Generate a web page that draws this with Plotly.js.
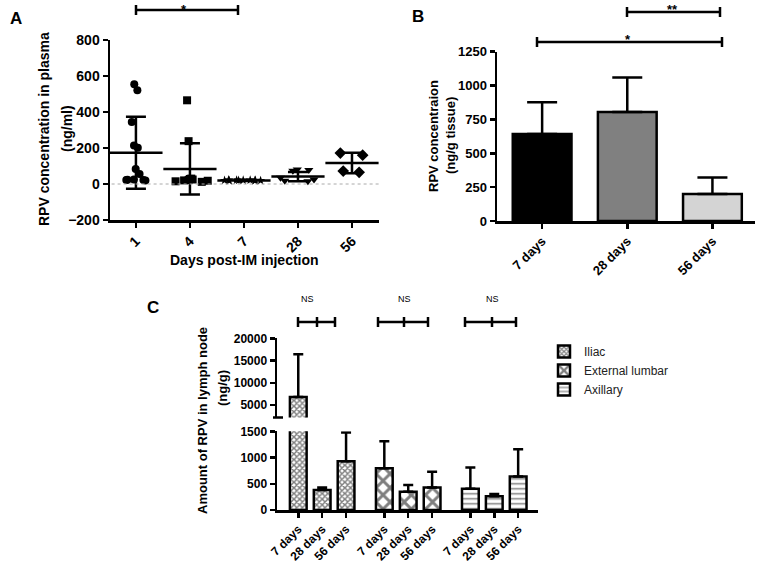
<!DOCTYPE html>
<html><head><meta charset="utf-8">
<script src="https://cdn.plot.ly/plotly-3.0.1.min.js"></script>
<style>html,body{margin:0;padding:0;background:#fff}#chart{width:757px;height:566px}</style>
</head><body><div id="chart"></div>
<script>
// ---------- Panel A: plasma ----------
const plasmaDays = ['1', '4', '7', '28', '56'];
const plasmaDay1 = [554, 521, 344, 214, 201, 84, 56, 25, 22, 22, 20, 24];
const plasmaDay4 = [465, 238, 30, 25, 20, 18, 15, 22, 28, 12];
const plasmaDay7 = [20, 22, 18, 21, 19, 23, 20, 22, 18, 21];
const plasmaDay28 = [78, 74, 80, 35, 25, 18, 15];
const plasmaDay56 = [172, 160, 72, 65];
const plasmaMean = [173, 84, 20, 41, 117];
const plasmaSD = [200, 142, 3, 26, 57];

// ---------- Panel B: tissue ----------
const tissueCats = ['7 days', '28 days', '56 days'];
const tissueMean = [642, 804, 199];
const tissueSD = [234, 256, 123];

// ---------- Panel C: lymph nodes ----------
const nodeTypes = ['Iliac', 'External lumbar', 'Axillary'];
const nodeDays = ['7 days', '28 days', '56 days'];
const iliacMean = [6860, 380, 931];
const iliacSD = [9570, 51, 544];
const lumbarMean = [798, 348, 431];
const lumbarSD = [514, 127, 297];
const axillaryMean = [405, 260, 640];
const axillarySD = [406, 44, 520];

const W = 757, H = 566;
const px = x => x / W, py = y => 1 - y / H;
const FONT = 'Liberation Sans, Arial, sans-serif';
const BOLD = (s) => ({family: FONT, size: s, color: '#000', weight: 'bold'});

const traces = [];

// A: scatter dots via box traces (box invisible, all points)
const plasmaSets = [plasmaDay1, plasmaDay4, plasmaDay7, plasmaDay28, plasmaDay56];
const plasmaSymbols = ['circle', 'square', 'star', 'triangle-down', 'diamond'];
const plasmaSizes = [8, 8, 7, 8, 9];
const plasmaJitter = [0.8, 1, 1, 0.9, 0.6];
plasmaSets.forEach((vals, k) => {
  traces.push({
    type: 'box', xaxis: 'x', yaxis: 'y',
    x: vals.map(() => plasmaDays[k]), y: vals,
    boxpoints: 'all', jitter: plasmaJitter[k], pointpos: 0, width: 0.85,
    fillcolor: 'rgba(0,0,0,0)', line: {width: 0, color: 'rgba(0,0,0,0)'},
    whiskerwidth: 0,
    marker: {symbol: plasmaSymbols[k], size: plasmaSizes[k], color: '#000', line: {width: 0}},
    showlegend: false, hoverinfo: 'y'
  });
});
traces.push({
  type: 'scatter', mode: 'markers', xaxis: 'x', yaxis: 'y',
  x: plasmaDays, y: plasmaMean,
  marker: {symbol: 'line-ew', size: 38, line: {width: 2.5, color: '#000'}},
  error_y: {type: 'data', array: plasmaSD, width: 10, thickness: 2.5, color: '#000'},
  showlegend: false
});

// B: bars
traces.push({
  type: 'bar', xaxis: 'x2', yaxis: 'y2',
  x: tissueCats, y: tissueMean, width: 0.69,
  marker: {color: ['#000000', '#808080', '#d4d4d4'], line: {width: 2.5, color: '#000'}},
  error_y: {type: 'data', array: tissueSD, arrayminus: tissueSD.map(() => 0), symmetric: false,
            width: 15, thickness: 2.5, color: '#000'},
  showlegend: false
});

// C: bars (bottom and top segment of broken axis)
const nodeMeans = [iliacMean, lumbarMean, axillaryMean];
const nodeSDs = [iliacSD, lumbarSD, axillarySD];
const patterns = [
  {shape: 'x', size: 4, solidity: 0.6},
  {shape: 'x', size: 10, solidity: 0.5},
  {shape: '-', size: 5, solidity: 0.3}
];
const pos = (g, i) => g * 3.6 + i;
const tickPos = [], tickTxt = [];
nodeTypes.forEach((name, g) => {
  const xs = nodeDays.map((d, i) => pos(g, i));
  xs.forEach((v, i) => { tickPos.push(v); tickTxt.push(nodeDays[i]); });
  ['y3', 'y4'].forEach((ya, s) => {
    traces.push({
      type: 'bar', xaxis: 'x3', yaxis: ya, name: name,
      x: xs, y: nodeMeans[g], width: 0.7,
      marker: {color: '#fff', line: {width: 2.5, color: '#000'},
               pattern: Object.assign({fgcolor: '#000', bgcolor: '#fff', fillmode: 'overlay'}, patterns[g])},
      error_y: {type: 'data', array: nodeSDs[g], arrayminus: nodeSDs[g].map(() => 0), symmetric: false,
                width: 5, thickness: 2.5, color: '#000'},
      showlegend: s === 0, legendgroup: name
    });
  });
});

const axisCommon = {
  showline: true, linewidth: 2.5, linecolor: '#000', ticks: 'outside', ticklen: 5, tickwidth: 2.5,
  tickcolor: '#000', showgrid: false, zeroline: false, fixedrange: true
};

const shapes = [];
const annotations = [];
function sigBar(x0, x1, y, mids) {
  shapes.push({type: 'line', xref: 'paper', yref: 'paper', x0: px(x0), x1: px(x1), y0: py(y), y1: py(y), line: {width: 2.5, color: '#000'}});
  [x0, x1].concat(mids || []).forEach(x => shapes.push({type: 'line', xref: 'paper', yref: 'paper', x0: px(x), x1: px(x), y0: py(y - 5), y1: py(y + 5), line: {width: 2.5, color: '#000'}}));
}
function txt(x, y, t, font, extra) {
  annotations.push(Object.assign({xref: 'paper', yref: 'paper', x: px(x), y: py(y), text: t, showarrow: false, font: font, xanchor: 'center', yanchor: 'middle'}, extra || {}));
}

// zero dotted line in A
shapes.push({type: 'line', xref: 'x', yref: 'y', x0: -0.45, x1: 4.5, y0: 0, y1: 0, line: {width: 1, color: '#aaa', dash: 'dot'}});
// broken axis end tick in C
shapes.push({type: 'line', xref: 'paper', yref: 'paper', x0: px(273), x1: px(283), y0: py(417.5), y1: py(417.5), line: {width: 2.5, color: '#000'}});

sigBar(136, 238, 10);
txt(184, 0, '*', BOLD(13), {yanchor: 'top'});
sigBar(627, 720, 12);
txt(672, 0, '**', BOLD(13), {yanchor: 'top'});
sigBar(537, 722, 42);
txt(628, 30, '*', BOLD(13), {yanchor: 'top'});
sigBar(298, 335, 322, [317]);
sigBar(378, 428, 322, [404]);
sigBar(465, 516, 322, [492]);
txt(307, 299, 'NS', {family: FONT, size: 9, color: '#000'});
txt(405, 299, 'NS', {family: FONT, size: 9, color: '#000'});
txt(492, 299, 'NS', {family: FONT, size: 9, color: '#000'});

// panel letters
txt(16, 18, 'A', BOLD(17));
txt(418, 17, 'B', BOLD(17));
txt(153, 307, 'C', BOLD(17));

// axis titles
txt(44, 129, 'RPV concentration in plasma', BOLD(14), {textangle: -90});
txt(67, 129, '(ng/ml)', BOLD(14), {textangle: -90});
txt(244, 260, 'Days post-IM injection', BOLD(14));
txt(434, 136, 'RPV concentraion', BOLD(13), {textangle: -90});
txt(451, 136, '(ng/g tissue)', BOLD(13), {textangle: -90});
txt(202, 421, 'Amount of RPV in lymph node', BOLD(13), {textangle: -90});
txt(222, 388, '(ng/g)', BOLD(13), {textangle: -90});

const layout = {
  width: W, height: H, margin: {l: 0, r: 0, t: 0, b: 0},
  paper_bgcolor: '#fff', plot_bgcolor: 'rgba(0,0,0,0)',
  font: {family: FONT, color: '#000'},
  barmode: 'overlay', boxmode: 'overlay',
  xaxis: Object.assign({}, axisCommon, {domain: [px(110), px(379)], anchor: 'y', type: 'category', range: [-0.48, 4.5],
    tickangle: -45, tickfont: BOLD(14)}),
  yaxis: Object.assign({}, axisCommon, {domain: [py(220), py(40)], anchor: 'x', range: [-200, 800], dtick: 200,
    tickfont: BOLD(14)}),
  xaxis2: Object.assign({}, axisCommon, {domain: [px(497), px(755)], anchor: 'y2', type: 'category', range: [-0.53, 2.5],
    tickangle: -45, tickfont: BOLD(13)}),
  yaxis2: Object.assign({}, axisCommon, {domain: [py(221), py(51.7)], anchor: 'x2', range: [0, 1250], dtick: 250,
    tickfont: BOLD(13)}),
  xaxis3: Object.assign({}, axisCommon, {domain: [px(277), px(538)], anchor: 'y3', range: [-0.89, 10.03],
    tickmode: 'array', tickvals: tickPos, ticktext: tickTxt, tickangle: -45, tickfont: BOLD(12)}),
  yaxis3: Object.assign({}, axisCommon, {domain: [py(510), py(431.3)], anchor: 'x3', range: [0, 1500], dtick: 500,
    tickfont: BOLD(12)}),
  yaxis4: Object.assign({}, axisCommon, {domain: [py(417.5), py(338.3)], anchor: 'x3', range: [2240, 20000],
    tickmode: 'array', tickvals: [5000, 10000, 15000, 20000], ticktext: ['5000', '10000', '15000', '20000'],
    tickfont: BOLD(12)}),
  legend: {x: px(544), y: py(337), xanchor: 'left', yanchor: 'top', bgcolor: 'rgba(0,0,0,0)',
    font: {family: FONT, size: 12, color: '#222'}, tracegroupgap: 0},
  shapes: shapes, annotations: annotations
};

Plotly.newPlot('chart', traces, layout, {displayModeBar: false, staticPlot: true});
</script></body></html>
